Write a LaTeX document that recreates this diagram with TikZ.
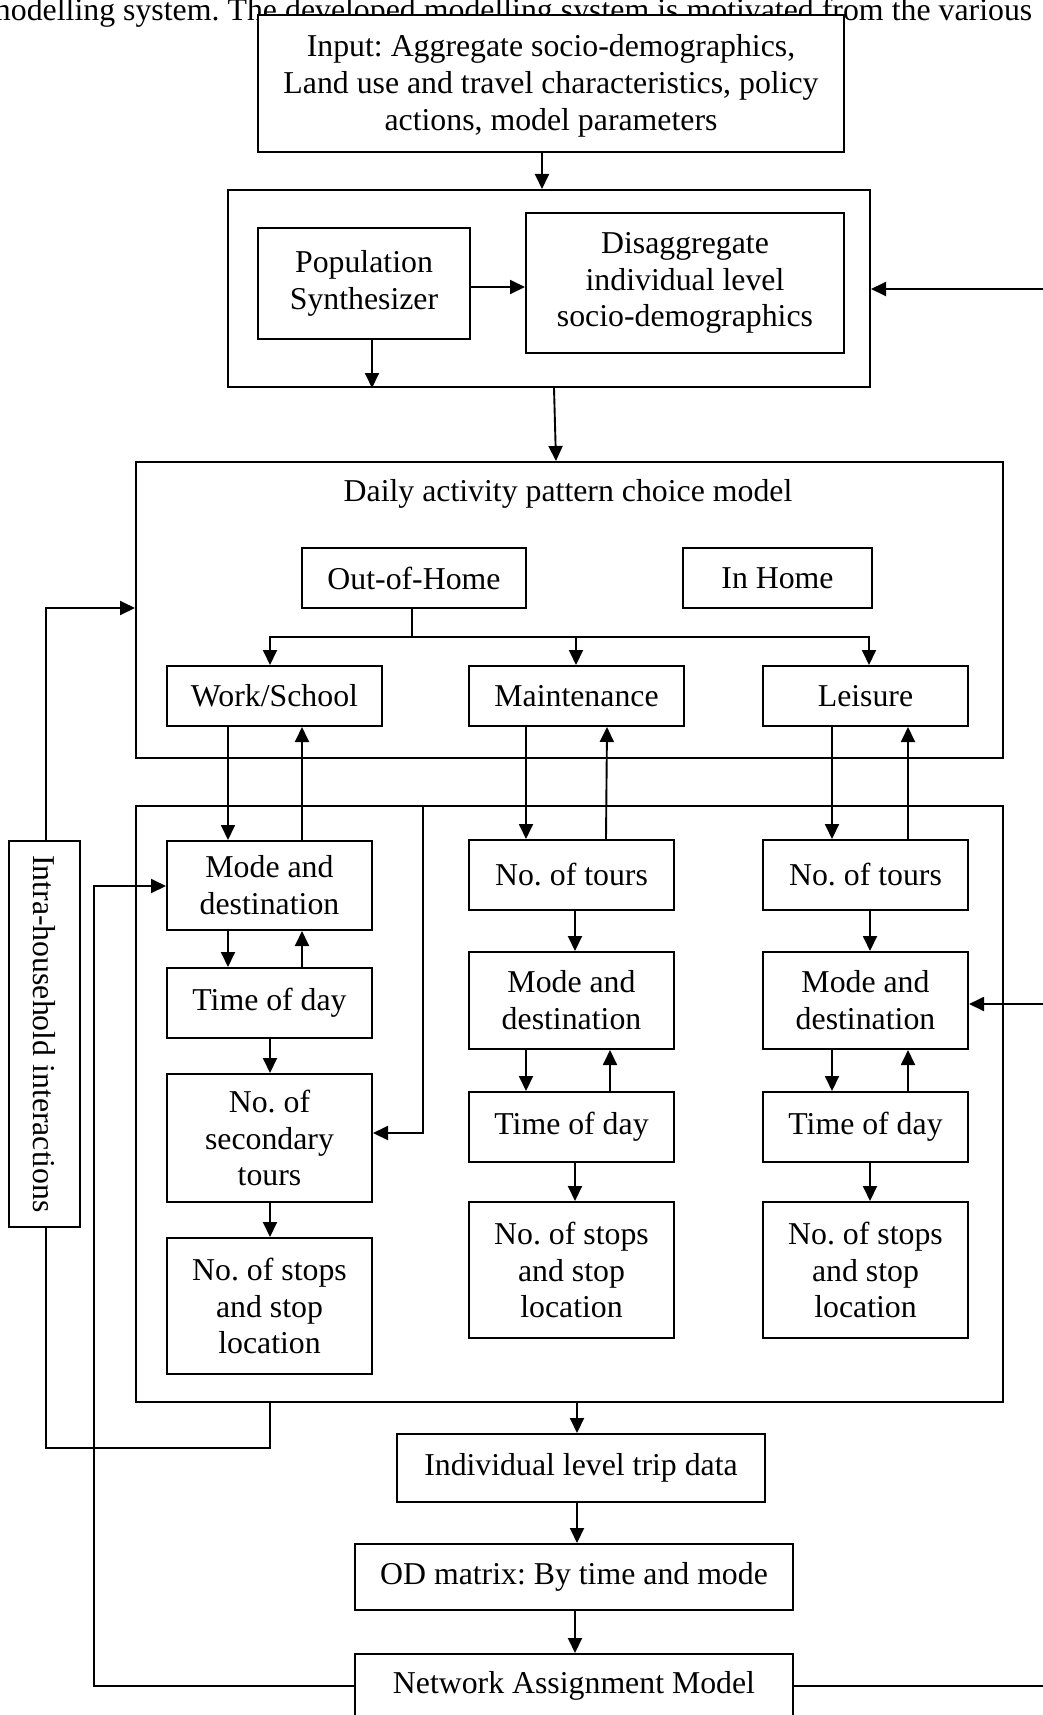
\documentclass[tikz,border=0pt]{standalone}
\usepackage{fontspec}
\setmainfont{Liberation Serif}
\usetikzlibrary{arrows.meta}
\begin{document}
\frenchspacing
\begin{tikzpicture}[x=1pt,y=-1pt,
  txt/.style={font=\fontsize{31.8}{36.8}\selectfont},
  box/.style={draw, line width=2pt, fill=white, inner sep=0pt, align=center, txt},
  arr/.style={line width=1.9pt, -{Triangle[length=15pt,width=14pt]}},
  ln/.style={line width=1.9pt}]
\useasboundingbox (0,0) rectangle (1043,1715);
\clip (0,0) rectangle (1043,1715);

% running text of the page, partly hidden by the first box
\node[anchor=base west, inner sep=0pt, txt] (para) at (-14,21)
  {\makebox[1046pt][s]{modelling system. The developed modelling system is motivated from the various}};

% top part
\node[box, minimum width=586, minimum height=137] (input) at (551,83.5) {};
\node[txt, inner sep=0pt, align=center] (inputtxt) at (551,86)
  {Input: Aggregate socio-demographics,\\Land use and travel characteristics, policy\\actions, model parameters};
\node[box, minimum width=642, minimum height=197] (grp) at (549,288.5) {};
\node[box, minimum width=212, minimum height=111] (pop) at (364,283) {Population\\Synthesizer};
\node[box, minimum width=318, minimum height=140] (dis) at (685,283) {Disaggregate\\individual level\\socio-demographics};

% daily activity pattern
\node[box, minimum width=867, minimum height=296] (daily) at (569.5,610) {};
\node[txt, inner sep=0pt] (title) at (568,494) {Daily activity pattern choice model};
\node[box, minimum width=224, minimum height=60] (ooh) at (414,578) {Out-of-Home};
\node[box, minimum width=189, minimum height=60] (inh) at (777.5,578) {In Home};
\node[box, minimum width=215, minimum height=60] (ws) at (274.5,696) {Work/School};
\node[box, minimum width=215, minimum height=60] (mt) at (576.5,696) {Maintenance};
\node[box, minimum width=205, minimum height=60] (le) at (865.5,696) {Leisure};

% lower block
\node[box, minimum width=867, minimum height=596] (low) at (569.5,1104) {};
\node[box, minimum width=205, minimum height=89] (md1) at (269.5,885.5) {Mode and\\destination};
\node[box, minimum width=205, minimum height=70] (td1) at (269.5,1003) {Time of day};
\node[box, minimum width=205, minimum height=128] (sec) at (269.5,1138) {No. of\\secondary\\tours};
\node[box, minimum width=205, minimum height=136] (st1) at (269.5,1306) {No. of stops\\and stop\\location};

\node[box, minimum width=205, minimum height=70] (nt2) at (571.5,875) {No. of tours};
\node[box, minimum width=205, minimum height=97] (md2) at (571.5,1000.5) {Mode and\\destination};
\node[box, minimum width=205, minimum height=70] (td2) at (571.5,1127) {Time of day};
\node[box, minimum width=205, minimum height=136] (st2) at (571.5,1270) {No. of stops\\and stop\\location};

\node[box, minimum width=205, minimum height=70] (nt3) at (865.5,875) {No. of tours};
\node[box, minimum width=205, minimum height=97] (md3) at (865.5,1000.5) {Mode and\\destination};
\node[box, minimum width=205, minimum height=70] (td3) at (865.5,1127) {Time of day};
\node[box, minimum width=205, minimum height=136] (st3) at (865.5,1270) {No. of stops\\and stop\\location};

\node[box, minimum width=71, minimum height=386] (intra) at (44.5,1034)
  {\rotatebox{-90}{Intra-household interactions}};

% bottom chain
\node[box, minimum width=368, minimum height=68] (trip) at (581,1468) {Individual level trip data};
\node[box, minimum width=438, minimum height=66] (od) at (574,1577) {OD matrix: By time and mode};
\node[box, minimum width=438, minimum height=64] (nam) at (574,1686) {Network Assignment Model};

% coordinates for free ends and bends
\coordinate (rin1) at (1043,289);
\coordinate (rin2) at (1043,1004);
\coordinate (br) at (412,637);
\coordinate (fb) at (423,1133);
\coordinate (ib) at (270,1448);
\coordinate (fbl) at (94,886);

% connectors, top part
\draw[arr] (input.south -| 542,0) -- (grp.north -| 542,0);
\draw[arr] (pop.east |- 0,287) -- (dis.west |- 0,287);
\draw[arr] (pop.south -| 372,0) -- (grp.south -| 372,0);
\draw[arr] (grp.south -| 554,0) -- (daily.north -| 556,0);
\draw[arr] (rin1) -- (grp.east |- rin1);

% out-of-home branching
\draw[ln] (ooh.south -| br) -- (br);
\draw[arr] (br) -| (ws.north -| 270,0);
\draw[arr] (br) -| (mt.north -| 576,0);
\draw[arr] (br) -| (le.north -| 869,0);

% activity types <-> lower block
\draw[arr] (ws.south -| 228,0) -- (md1.north -| 228,0);
\draw[arr] (md1.north -| 302,0) -- (ws.south -| 302,0);
\draw[arr] (mt.south -| 526,0) -- (nt2.north -| 526,0);
\draw[arr] (nt2.north -| 606,0) -- (mt.south -| 607,0);
\draw[arr] (le.south -| 832,0) -- (nt3.north -| 832,0);
\draw[arr] (nt3.north -| 908,0) -- (le.south -| 908,0);

% column 1
\draw[arr] (md1.south -| 228,0) -- (td1.north -| 228,0);
\draw[arr] (td1.north -| 302,0) -- (md1.south -| 302,0);
\draw[arr] (td1.south -| 270,0) -- (sec.north -| 270,0);
\draw[arr] (sec.south -| 270,0) -- (st1.north -| 270,0);
\draw[arr] (low.north -| fb) -- (fb) -- (sec.east |- fb);

% column 2
\draw[arr] (nt2.south -| 575,0) -- (md2.north -| 575,0);
\draw[arr] (md2.south -| 526,0) -- (td2.north -| 526,0);
\draw[arr] (td2.north -| 610,0) -- (md2.south -| 610,0);
\draw[arr] (td2.south -| 575,0) -- (st2.north -| 575,0);

% column 3
\draw[arr] (nt3.south -| 870,0) -- (md3.north -| 870,0);
\draw[arr] (md3.south -| 832,0) -- (td3.north -| 832,0);
\draw[arr] (td3.north -| 908,0) -- (md3.south -| 908,0);
\draw[arr] (td3.south -| 870,0) -- (st3.north -| 870,0);
\draw[arr] (rin2) -- (md3.east |- rin2);

% intra-household loop
\draw[arr] (intra.north -| 46,0) |- (daily.west |- 0,608);
\draw[ln] (intra.south -| 46,0) |- (ib) -- (low.south -| ib);

% bottom chain
\draw[arr] (low.south -| 577,0) -- (trip.north -| 577,0);
\draw[arr] (trip.south -| 577,0) -- (od.north -| 577,0);
\draw[arr] (od.south -| 575,0) -- (nam.north -| 575,0);
\draw[arr] (nam.west) -| (fbl) -- (md1.west |- fbl);
\draw[ln] (nam.east) -- (nam.east -| rin1);
\end{tikzpicture}
\end{document}
